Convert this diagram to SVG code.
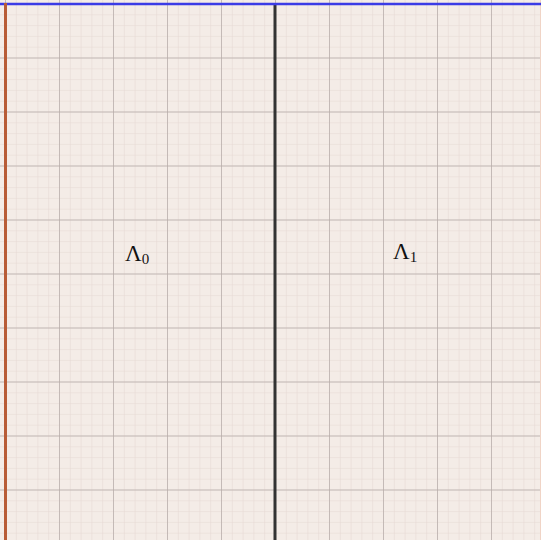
<svg xmlns="http://www.w3.org/2000/svg" width="541" height="540" viewBox="0 0 541 540">
<defs>
<pattern id="minor" x="5" y="3.5" width="10.8" height="10.8" patternUnits="userSpaceOnUse">
<path d="M0,0 H10.8 M0,0 V10.8" fill="none" stroke="#e6d9d4" stroke-width="1.2"/>
</pattern>
<pattern id="major" x="5" y="3.5" width="54" height="54" patternUnits="userSpaceOnUse">
<path d="M0,0 H54 M0,0 V54" fill="none" stroke="#b3aaa7" stroke-width="1.4"/>
</pattern>
<style>
.lbl{font-family:"Liberation Serif","DejaVu Serif",serif;font-size:23px;fill:#111}
.sub{font-size:15px}
</style>
</defs>
<g id="background">
<rect x="0" y="0" width="541" height="540" fill="#f4ece7"/>
<rect x="0" y="0" width="541" height="540" fill="url(#minor)"/>
<rect x="0" y="0" width="541" height="540" fill="url(#major)"/>
<rect x="540" y="0" width="1" height="540" fill="#f0d4c6"/>
</g>
<g id="connectors">
<line x1="275" y1="3" x2="275" y2="540" stroke="#333" stroke-width="3"/>
<line x1="0" y1="4" x2="541" y2="4" stroke="#3b3be6" stroke-width="2.5"/>
<line x1="5.5" y1="3" x2="5.5" y2="540" stroke="#b85c36" stroke-width="3"/>
</g>
<g id="region0">
<text class="lbl" x="125" y="261">Λ<tspan class="sub" dy="3">0</tspan></text>
</g>
<g id="region1">
<text class="lbl" x="393" y="259">Λ<tspan class="sub" dy="3">1</tspan></text>
</g>
</svg>
